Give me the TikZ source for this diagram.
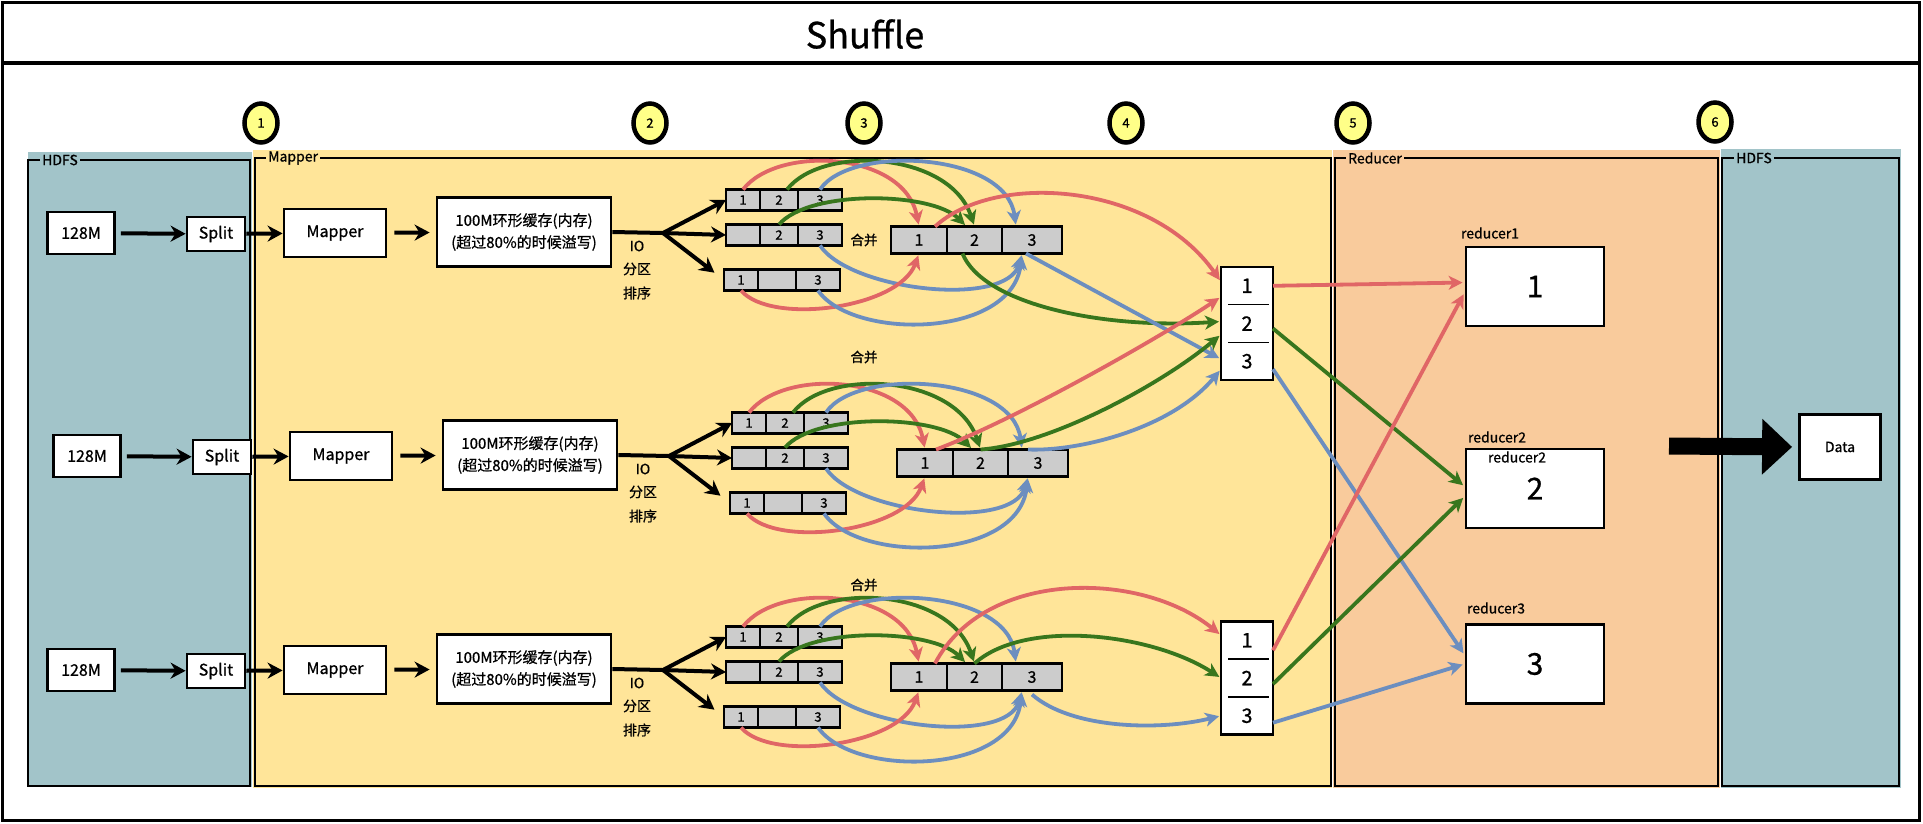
\documentclass[tikz,border=0pt]{standalone}
\usepackage{fontspec}
\setmainfont{Noto Sans CJK SC}[FakeBold=0.8]
\usetikzlibrary{arrows.meta,shapes.geometric,positioning,calc}
\definecolor{hdfscol}{HTML}{A2C4C9}
\definecolor{mapcol}{HTML}{FFE599}
\definecolor{redcol}{HTML}{F9CB9C}
\definecolor{cellgray}{HTML}{CCCCCC}
\definecolor{numyel}{HTML}{FFFF88}
\definecolor{linered}{HTML}{E06666}
\definecolor{linegreen}{HTML}{38761D}
\definecolor{lineblue}{HTML}{6C8EBF}

\begin{document}
\begin{tikzpicture}[x=1pt,y=-1pt,
  wbox/.style={draw,fill=white,line width=2.8pt,align=center,inner sep=1pt,font=\fontsize{16}{22}\selectfont},
  cellbox/.style={draw,fill=cellgray,line width=2.2pt,minimum height=21pt,inner sep=0pt,outer sep=0pt,font=\fontsize{13}{13}\selectfont},
  mcell/.style={cellbox,minimum height=27pt,line width=2.6pt,font=\fontsize{16}{16}\selectfont},
  vbox/.style={draw,fill=white,line width=2.6pt,minimum width=52pt,minimum height=113pt,inner sep=0pt},
  pcell/.style={minimum width=52pt,minimum height=37.7pt,inner sep=0pt,outer sep=0pt,font=\fontsize{20}{20}\selectfont},
  rbox/.style={draw,fill=white,line width=2.8pt,minimum width=138pt,minimum height=79pt,font=\fontsize{30}{30}\selectfont},
  numc/.style={draw,ellipse,fill=numyel,line width=4.5pt,minimum width=33pt,minimum height=39pt,inner sep=0pt,font=\fontsize{13}{13}\selectfont},
  lbl/.style={inner sep=1pt,font=\fontsize{14}{14}\selectfont},
  grplbl/.style={anchor=west,inner xsep=2pt,inner ysep=0pt,font=\fontsize{14}{14}\selectfont},
  grpframe/.style={line width=2.4pt},
  blk/.style={-{Stealth[length=15pt,width=16pt]},line width=4pt},
  carr/.style={-{Stealth[length=14pt,width=14pt,inset=4pt]},line width=3.8pt,shorten >=2pt},
  rarr/.style={carr,draw=linered},
  garr/.style={carr,draw=linegreen},
  barr/.style={carr,draw=lineblue}]
\useasboundingbox (0,0) rectangle (1923,823);
\fill[white] (0,0) rectangle (1923,823);
% title bar
\draw[line width=3pt] (2,2) rectangle (1919,820);
\draw[line width=4pt] (2,63) -- (1919,63);
\node[font=\fontsize{36}{36}\selectfont] (title) at (865,34) {Shuffle};
% stage panels
\fill[hdfscol] (28,152) rectangle (252,787);
\draw[grpframe] (28,160) rectangle (250,786);
\node[grplbl,fill=hdfscol] (hdfsin) at (40,160) {HDFS};
\fill[mapcol] (253,150) rectangle (1332,788);
\draw[grpframe] (255,158) rectangle (1331,786);
\node[grplbl,fill=mapcol] (mapgrp) at (266,158) {Mapper};
\fill[redcol] (1333,150) rectangle (1720,788);
\draw[grpframe] (1335,158) rectangle (1718,786);
\node[grplbl,fill=redcol] (redgrp) at (1346,158) {Reducer};
\fill[hdfscol] (1721,149) rectangle (1901,788);
\draw[grpframe] (1722,158) rectangle (1899,786);
\node[grplbl,fill=hdfscol] (hdfsout) at (1734,158) {HDFS};
% step numbers
\node[numc] (n1) at (261,123) {1};
\node[numc] (n2) at (650,123) {2};
\node[numc] (n3) at (864,123) {3};
\node[numc] (n4) at (1126,123) {4};
\node[numc] (n5) at (1353,123) {5};
\node[numc] (n6) at (1715,122) {6};
% three map rows
\foreach \k/\Y/\dx in {1/233/0,2/456/6,3/670/0}{
  \node[wbox,minimum width=67pt,minimum height=42pt] (src\k) at (81+\dx,\Y) {128M};
  \node[wbox,minimum width=58pt,minimum height=34pt] (spl\k) at (216+\dx,\Y+1) {Split};
  \node[wbox,minimum width=102pt,minimum height=48pt] (map\k) at (335+\dx,\Y) {Mapper};
  \node[wbox,minimum width=174pt,minimum height=69pt,font=\fontsize{15}{22}\selectfont] (buf\k) at (524+\dx,\Y-1) {100M环形缓存(内存)\\(超过80\%的时候溢写)};
  \coordinate (fork\k) at (663+\dx,\Y);
  \node[lbl] (io\k) at (637+\dx,\Y+13) {IO};
  \node[lbl] (part\k) at (637+\dx,\Y+36) {分区};
  \node[lbl] (sort\k) at (637+\dx,\Y+60) {排序};
  % spill files
  \node[cellbox,minimum width=34pt] (r\k-a1) at (743+\dx,\Y-33) {1};
  \node[cellbox,minimum width=38pt,right=0pt of r\k-a1] (r\k-a2) {2};
  \node[cellbox,minimum width=44pt,right=0pt of r\k-a2] (r\k-a3) {3};
  \node[cellbox,minimum width=34pt] (r\k-b1) at (743+\dx,\Y+2) {};
  \node[cellbox,minimum width=38pt,right=0pt of r\k-b1] (r\k-b2) {2};
  \node[cellbox,minimum width=44pt,right=0pt of r\k-b2] (r\k-b3) {3};
  \node[cellbox,minimum width=34pt] (r\k-c1) at (741+\dx,\Y+47) {1};
  \node[cellbox,minimum width=38pt,right=0pt of r\k-c1] (r\k-c2) {};
  \node[cellbox,minimum width=44pt,right=0pt of r\k-c2] (r\k-c3) {3};
  % merged file
  \node[mcell,minimum width=56pt] (r\k-m1) at (919+\dx,\Y+7) {1};
  \node[mcell,minimum width=55pt,right=0pt of r\k-m1] (r\k-m2) {2};
  \node[mcell,minimum width=60pt,right=0pt of r\k-m2] (r\k-m3) {3};
  \draw[blk,shorten <=5pt] (src\k) -- (spl\k);
  \draw[blk] (spl\k) -- (map\k);
  \draw[blk,shorten <=7pt,shorten >=6pt] (map\k) -- (buf\k);
  \draw[line width=4pt] (buf\k.east) -- (fork\k);
  \draw[blk] (fork\k) -- (r\k-a1.west);
  \draw[blk] (fork\k) -- (r\k-b1.west);
  \draw[blk,shorten >=12pt] (fork\k) -- (r\k-c1.west);
  \draw[rarr] (r\k-a1.north) .. controls +(35,-45) and +(-15,-75) .. (r\k-m1.north);
  \draw[garr] ([xshift=8pt]r\k-a2.north) .. controls +(35,-45) and +(-25,-75) .. (r\k-m2.north);
  \draw[barr] (r\k-a3.north) .. controls +(30,-45) and +(-10,-75) .. ([xshift=-16pt]r\k-m3.north);
  \draw[garr] (r\k-b2.north) .. controls +(30,-35) and +(-35,-35) .. ([xshift=-8pt]r\k-m2.north);
  \draw[barr] (r\k-b3.south) .. controls +(30,45) and +(-15,55) .. ([xshift=-10pt]r\k-m3.south);
  \draw[rarr] (r\k-c1.south) .. controls +(30,35) and +(-20,55) .. (r\k-m1.south);
  \draw[barr] (r\k-c3.south) .. controls +(35,50) and +(-10,85) .. ([xshift=-10pt]r\k-m3.south);
}
\node[lbl,font=\fontsize{13.5}{13.5}\selectfont] (mrg1) at (864,240) {合并};
\node[lbl,font=\fontsize{13.5}{13.5}\selectfont] (mrg2) at (864,357) {合并};
\node[lbl,font=\fontsize{13.5}{13.5}\selectfont] (mrg3) at (864,585) {合并};
% partitioned outputs
\node[vbox] (v1) at (1247,323.5) {};
\node[pcell] (v1-2) at (v1) {2};
\node[pcell,above=0pt of v1-2] (v1-1) {1};
\node[pcell,below=0pt of v1-2] (v1-3) {3};
\draw[line width=1.6pt] ([xshift=7pt]v1-1.south west) -- ([xshift=-4pt]v1-1.south east);
\draw[line width=1.6pt] ([xshift=7pt]v1-2.south west) -- ([xshift=-4pt]v1-2.south east);
\node[vbox] (v3) at (1247,678) {};
\node[pcell] (v3-2) at (v3) {2};
\node[pcell,above=0pt of v3-2] (v3-1) {1};
\node[pcell,below=0pt of v3-2] (v3-3) {3};
\draw[line width=1.6pt] ([xshift=7pt]v3-1.south west) -- ([xshift=-4pt]v3-1.south east);
\draw[line width=1.6pt] ([xshift=7pt]v3-2.south west) -- ([xshift=-4pt]v3-2.south east);
\draw[rarr] ([xshift=16pt]r1-m1.north) .. controls +(60,-55) and +(-70,-100) .. ([yshift=4pt]v1-1.west);
\draw[garr] ([xshift=-12pt]r1-m2.south) .. controls +(20,50) and +(-120,8) .. ([yshift=2pt]v1-2.west);
\draw[barr] ([xshift=-6pt]r1-m3.south) -- ([yshift=2pt]v1-3.west);
\draw[rarr] ([xshift=11pt]r2-m1.north) .. controls +(80,-30) and +(-60,40) .. ([yshift=-11pt]v1-1.west);
\draw[garr] (r2-m2.north) .. controls +(70,-5) and +(-60,50) .. ([yshift=-11pt]v1-2.west);
\draw[barr] ([xshift=-10pt]r2-m3.north) .. controls +(50,2) and +(-50,60) .. ([yshift=-8pt]v1-3.west);
\draw[rarr] ([xshift=16pt]r3-m1.north) .. controls +(50,-95) and +(-80,-65) .. ([yshift=5pt]v3-1.west);
\draw[garr] (r3-m2.north) .. controls +(50,-45) and +(-70,-45) .. (v3-2.west);
\draw[barr] ([yshift=-4pt]r3-m3.south) .. controls +(40,35) and +(-60,15) .. (v3-3.west);
% reducers
\node[lbl] (lr1) at (1490,233) {reducer1};
\node[rbox] (red1) at (1535,286.5) {1};
\node[lbl] (lr2) at (1497,437) {reducer2};
\node[rbox] (red2) at (1535,488.5) {2};
\node[lbl] (lr2in) at (1517,457) {reducer2};
\node[lbl] (lr3) at (1496,608) {reducer3};
\node[rbox] (red3) at (1535,664) {3};
\draw[rarr] (v1-1.east) -- ([yshift=4pt]red1.west);
\draw[garr] ([yshift=-5pt]v1-2.east) -- ([yshift=2pt]red2.west);
\draw[barr] ([yshift=-8pt]v1-3.east) -- ([yshift=9pt]red3.west);
\draw[rarr] ([yshift=-10pt]v3-1.east) -- ([yshift=-6pt]red1.west);
\draw[garr] ([yshift=-6pt]v3-2.east) -- ([yshift=-8pt]red2.west);
\draw[barr] ([yshift=-7pt]v3-3.east) -- (red3.west);
% output to HDFS
\node[wbox,minimum width=81pt,minimum height=65pt,font=\fontsize{14}{14}\selectfont] (data) at (1840,447) {Data};
\coordinate (bigtail) at (1669,446);
\draw[line width=17pt,-{Triangle[length=30pt,width=54pt]},shorten >=6pt] (bigtail) -- (data.west);
\end{tikzpicture}
\end{document}
